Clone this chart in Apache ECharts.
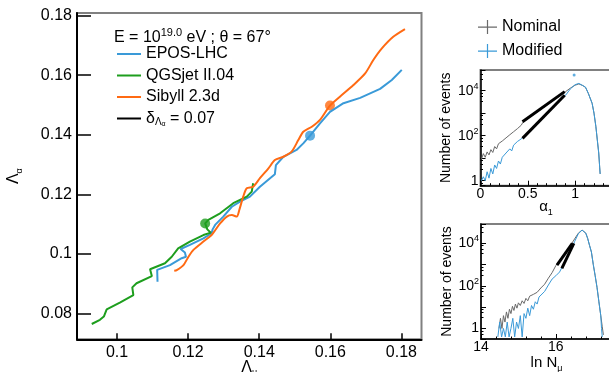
<!DOCTYPE html>
<html><head><meta charset="utf-8">
<script src="https://cdn.jsdelivr.net/npm/echarts@6/dist/echarts.min.js"></script>
<style>html,body{margin:0;padding:0;background:#fff}#c{width:609px;height:372px}</style>
</head><body><div id="c"></div>
<script>
// ---- Main panel: Lambda_mu (x) vs Lambda_alpha (y) ----
const eposX = [0.1114,0.1113,0.1149,0.1182,0.1194,0.1191,0.1179,0.1205,0.1243,0.1266,0.1269,0.1276,0.1299,0.1323,0.1346,0.1374,0.1402,0.1444,0.1447,0.1468,0.1505,0.1524,0.1543,0.1571,0.1599,0.1637,0.1684,0.1740,0.1773,0.1801];
const eposY = [0.0906,0.0946,0.0962,0.0985,0.0990,0.1004,0.1016,0.1030,0.1052,0.1069,0.1082,0.1097,0.1125,0.1158,0.1175,0.1192,0.1225,0.1267,0.1298,0.1326,0.1349,0.1371,0.1397,0.1438,0.1477,0.1506,0.1524,0.1554,0.1584,0.1618];
const qgsX = [0.0929,0.0952,0.0963,0.0971,0.1008,0.1046,0.1043,0.1055,0.1098,0.1093,0.1135,0.1154,0.1172,0.1205,0.1243,0.1264,0.1254,0.1248,0.1257,0.1290,0.1327,0.1365,0.1379,0.1383];
const qgsY = [0.0764,0.0778,0.0789,0.0813,0.0836,0.0861,0.0887,0.0901,0.0925,0.0948,0.0968,0.0990,0.1018,0.1041,0.1063,0.1071,0.1082,0.1102,0.1114,0.1136,0.1170,0.1192,0.1209,0.1237];
const sibX = [0.1161,0.1168,0.1187,0.1201,0.1215,0.1243,0.1266,0.1290,0.1309,0.1323,0.1337,0.1344,0.1355,0.1365,0.1383,0.1402,0.1426,0.1444,0.1468,0.1491,0.1510,0.1524,0.1548,0.1571,0.1599,0.1627,0.1665,0.1698,0.1721,0.1745,0.1777,0.1810];
const sibY = [0.0943,0.0945,0.0962,0.0990,0.1013,0.1041,0.1063,0.1102,0.1125,0.1130,0.1125,0.1147,0.1192,0.1220,0.1225,0.1254,0.1287,0.1315,0.1326,0.1343,0.1382,0.1410,0.1427,0.1450,0.1498,0.1528,0.1567,0.1606,0.1651,0.1690,0.1729,0.1755];
const nominalPts = { epos: [0.1543, 0.1397], qgs: [0.1248, 0.1102], sib: [0.1599, 0.1498] };
const mainXTicks = [0.1, 0.12, 0.14, 0.16, 0.18];
const mainYTicks = [0.08, 0.1, 0.12, 0.14, 0.16, 0.18];

// ---- Inset 1: alpha_1 histograms ----
const a1NomX = [0.01,0.03,0.05,0.07,0.09,0.11,0.13,0.15,0.17,0.19,0.21,0.23,0.25,0.27,0.29,0.31,0.33,0.35,0.37,0.39,0.41,0.43,0.45,0.55,0.65,0.75,0.85,0.9,0.95,1.0,1.04,1.08,1.11,1.14,1.18,1.2,1.22,1.235,1.25,1.26,1.265];
const a1NomY = [9,16,11,19,14,24,18,33,26,44,36,58,49,80,66,110,92,150,128,205,180,290,400,800,1600,3200,6800,9100,13000,17500,20000,17000,14000,7600,2750,1000,250,65,17,4,2];
const a1ModX = [0.01,0.03,0.05,0.07,0.09,0.11,0.13,0.15,0.17,0.19,0.21,0.23,0.25,0.27,0.29,0.31,0.33,0.35,0.37,0.39,0.41,0.43,0.45,0.55,0.65,0.75,0.85,0.9,0.95,1.0,1.04,1.08,1.11,1.14,1.18,1.2,1.22,1.235,1.25,1.26,1.265];
const a1ModY = [1,1.5,1,2.5,1.3,3.5,2,5,3.5,7.5,5.5,11,9,17,14,26,21,38,33,55,50,72,80,210,600,1600,4300,6300,12000,18500,21000,17000,14500,7600,2750,1000,250,65,17,4,2];
const a1Outlier = [0.99, 50000];
const a1FitNomX = [0.444, 0.89], a1FitNomY = [417, 9100];
const a1FitModX = [0.444, 0.89], a1FitModY = [76, 6300];

// ---- Inset 2: ln N_mu histograms ----
const lnNomX = [14.48,14.52,14.56,14.6,14.64,14.68,14.72,14.76,14.8,14.84,14.88,14.92,14.96,15.0,15.05,15.1,15.15,15.2,15.25,15.3,15.35,15.4,15.45,15.5,15.55,15.6,15.7,15.8,15.9,16.0,16.1,16.2,16.3,16.4,16.5,16.6,16.7,16.8,16.85,16.9,16.95,17.0,17.05,17.1,17.15,17.2,17.24,17.27];
const lnNomY = [1,3,1,4,2,6,3,8,5,11,7,14,9,16,12,20,15,26,20,33,28,40,36,50,48,80,120,230,420,900,1600,2800,4800,8500,16000,30000,42000,30000,17000,8000,3900,1000,300,85,18,4,1.2,0.5];
const lnModX = [14.45,14.5,14.55,14.6,14.65,14.7,14.75,14.8,14.85,14.9,14.95,15.0,15.05,15.1,15.15,15.2,15.25,15.3,15.35,15.4,15.45,15.5,15.55,15.6,15.7,15.8,15.9,16.0,16.1,16.2,16.3,16.4,16.5,16.6,16.7,16.8,16.85,16.9,16.95,17.0,17.05,17.1,17.15,17.2,17.22,17.24];
const lnModY = [0.4,2,0.4,1,0.4,2,0.4,1,3,0.4,2,1,4,0.4,5,3,9,4,12,8,18,14,30,26,55,110,210,300,450,1000,2000,4500,12000,28000,42000,30000,17000,8000,3900,1000,300,85,18,4,1,0.4];
const lnFitNomX = [16.03, 16.44], lnFitNomY = [950, 10000];
const lnFitModX = [16.16, 16.48], lnFitModY = [660, 10000];

const FONT = 'Liberation Sans, Arial, sans-serif';
const C_EPOS = '#3a9ad8', C_QGS = '#1e9e1e', C_SIB = '#ff6a13', C_NOM = '#6a6a6a', C_MOD = '#3a9ad8';
const zip = (xs, ys) => xs.map((x, i) => [x, ys[i]]);

const fmtMain = v => String(+(+v).toFixed(2));
const fmtLog = v => {
  const lg = Math.log10(v), r = Math.round(lg);
  if (Math.abs(lg - r) > 1e-6) return '';
  if (r === 0) return '1';
  if (r % 2) return '';
  return '{b|10}{p|' + r + '}';
};
const logRich = { b: { fontSize: 14, fontFamily: FONT, color: '#000', lineHeight: 18 }, p: { fontSize: 9, fontFamily: FONT, color: '#000', lineHeight: 9, verticalAlign: 'top' } };

const insetY = (gi, min, max) => ({
  gridIndex: gi, type: 'log', logBase: 10, min: min, max: max,
  axisLine: { show: true, lineStyle: { color: '#000', width: 1.5 } },
  axisTick: { show: true, inside: true, length: 5, lineStyle: { color: '#000' } },
  minorTick: { show: true, splitNumber: 4, length: 2.5, lineStyle: { color: '#000' } },
  axisLabel: { formatter: fmtLog, rich: logRich, margin: 2, showMinLabel: false, showMaxLabel: false, color: '#000', fontSize: 14, fontFamily: FONT },
  splitLine: { show: false }, minorSplitLine: { show: false },
  name: 'Number of events', nameLocation: 'middle', nameGap: 27,
  nameTextStyle: { fontSize: 14, fontFamily: FONT, color: '#000' }
});
const insetX = (gi, min, max, interval, name, gap) => ({
  gridIndex: gi, type: 'value', min: min, max: max, interval: interval,
  axisLine: { show: true, onZero: false, lineStyle: { color: '#000', width: 1.5 } },
  axisTick: { show: true, inside: true, length: 5, lineStyle: { color: '#000' } },
  minorTick: { show: true, splitNumber: 5, length: 2.5, lineStyle: { color: '#000' } },
  axisLabel: { margin: 1, showMaxLabel: false, color: '#000', fontSize: 14, fontFamily: FONT, formatter: v => String(v) },
  splitLine: { show: false },
  name: name, nameLocation: 'middle', nameGap: gap, nameMoveOverlap: false,
  nameTextStyle: { fontSize: 14, fontFamily: FONT, color: '#000', rich: {
    a: { fontSize: 15, fontFamily: FONT, color: '#000', lineHeight: 20 },
    s: { fontSize: 9, fontFamily: FONT, color: '#000', lineHeight: 9, verticalAlign: 'bottom' } } }
});
const gridBase = { show: true, borderColor: '#808080', borderWidth: 2, backgroundColor: 'transparent', containLabel: false, outerBoundsMode: 'none' };

const chart = echarts.init(document.getElementById('c'), null, { renderer: 'canvas' });
chart.setOption({
  animation: false,
  backgroundColor: '#fff',
  textStyle: { fontFamily: FONT },
  title: {
    text: '{a|E = 10}{sup|19.0}{a| eV ; θ = 67°}',
    left: 109, top: 22,
    textStyle: { fontWeight: 'normal', rich: {
      a: { fontSize: 16, fontWeight: 'normal', fontFamily: FONT, color: '#000', lineHeight: 22 },
      sup: { fontSize: 11, fontWeight: 'normal', fontFamily: FONT, color: '#000', lineHeight: 11, verticalAlign: 'top' } } }
  },
  legend: [{
    data: ['EPOS-LHC', 'QGSjet II.04', 'Sibyll 2.3d', 'delta'],
    orient: 'vertical', left: 112, top: 41, itemWidth: 24, itemHeight: 14, itemGap: 5.5,
    icon: 'path://M0,0h0.01v0.01h-0.01z M0,6h24v2h-24z M0,13.99h0.01v0.01h-0.01z',
    formatter: n => n === 'delta' ? '{d|δ}{s1|Λ}{s2|α}{d| = 0.07}' : '{t|' + n + '}',
    textStyle: { rich: {
      t: { fontSize: 16, fontFamily: FONT, color: '#000', lineHeight: 18 },
      d: { fontSize: 16, fontFamily: FONT, color: '#000', lineHeight: 18 },
      s1: { fontSize: 10, fontFamily: FONT, color: '#000', lineHeight: 6, verticalAlign: 'bottom' },
      s2: { fontSize: 7, fontFamily: FONT, color: '#000', lineHeight: 2, verticalAlign: 'bottom' } } }
  }, {
    data: ['Nominal', 'Modified'],
    orient: 'vertical', left: 473, top: 12, itemWidth: 19, itemHeight: 14, itemGap: 4,
    icon: 'path://M0,6.5h19v1.2h-19z M8.9,0h1.2v14h-1.2z',
    textStyle: { fontSize: 16, fontFamily: FONT, color: '#000', lineHeight: 20 }
  }],
  grid: [
    Object.assign({ left: 77, top: 13, width: 344.5, height: 326.3 }, gridBase),
    Object.assign({ left: 480.5, top: 70, width: 131, height: 115.7 }, gridBase),
    Object.assign({ left: 481, top: 224, width: 131, height: 115 }, gridBase)
  ],
  xAxis: [
    {
      gridIndex: 0, type: 'value', min: 0.08875, max: 0.18565,
      axisLine: { show: true, onZero: false, lineStyle: { color: '#000', width: 2 } },
      axisTick: { show: true, inside: true, length: 6, customValues: mainXTicks, lineStyle: { color: '#000', width: 1.5 } },
      axisLabel: { customValues: mainXTicks, formatter: fmtMain, margin: 5, fontSize: 16, color: '#000', fontFamily: FONT },
      splitLine: { show: false },
      name: '{a|Λ}{s|μ}', nameLocation: 'middle', nameGap: 18, nameMoveOverlap: false,
      nameTextStyle: { rich: {
        a: { fontSize: 16, fontFamily: FONT, color: '#000', lineHeight: 20 },
        s: { fontSize: 9, fontFamily: FONT, color: '#000', lineHeight: 9, verticalAlign: 'bottom' } } }
    },
    insetX(1, 0, 1.385, 0.5, '{a|α}{s|1}', 11),
    insetX(2, 14, 17.5, 2, '{a|ln N}{s|μ}', 14)
  ],
  yAxis: [
    {
      gridIndex: 0, type: 'value', min: 0.07126, max: 0.18091,
      axisLine: { show: true, onZero: false, lineStyle: { color: '#000', width: 2 } },
      axisTick: { show: true, inside: true, length: 14, customValues: mainYTicks, lineStyle: { color: '#000', width: 1.5 } },
      axisLabel: { customValues: mainYTicks, formatter: fmtMain, margin: 5, fontSize: 16, color: '#000', fontFamily: FONT },
      splitLine: { show: false },
      name: '{a|Λ}{s|α}', nameLocation: 'middle', nameGap: 53,
      nameTextStyle: { rich: {
        a: { fontSize: 16, fontFamily: FONT, color: '#000', lineHeight: 20 },
        s: { fontSize: 9, fontFamily: FONT, color: '#000', lineHeight: 9, verticalAlign: 'bottom' } } }
    },
    insetY(1, 0.6, 83000),
    insetY(2, 0.32, 81000)
  ],
  series: [
    { name: 'EPOS-LHC', type: 'line', xAxisIndex: 0, yAxisIndex: 0, data: zip(eposX, eposY), symbol: 'none', color: C_EPOS, lineStyle: { width: 2, color: C_EPOS } },
    { name: 'QGSjet II.04', type: 'line', xAxisIndex: 0, yAxisIndex: 0, data: zip(qgsX, qgsY), symbol: 'none', color: C_QGS, lineStyle: { width: 2, color: C_QGS } },
    { name: 'Sibyll 2.3d', type: 'line', xAxisIndex: 0, yAxisIndex: 0, data: zip(sibX, sibY), symbol: 'none', smooth: 0.25, color: C_SIB, lineStyle: { width: 2, color: C_SIB } },
    { name: 'delta', type: 'line', xAxisIndex: 0, yAxisIndex: 0, data: [], symbol: 'none', color: '#000', lineStyle: { width: 2, color: '#000' } },
    { name: 'EPOS nominal', type: 'scatter', xAxisIndex: 0, yAxisIndex: 0, data: [nominalPts.epos], symbolSize: 10, itemStyle: { color: C_EPOS } },
    { name: 'QGS nominal', type: 'scatter', xAxisIndex: 0, yAxisIndex: 0, data: [nominalPts.qgs], symbolSize: 10, itemStyle: { color: C_QGS } },
    { name: 'Sibyll nominal', type: 'scatter', xAxisIndex: 0, yAxisIndex: 0, data: [nominalPts.sib], symbolSize: 10, itemStyle: { color: C_SIB } },

    { name: 'Nominal', type: 'line', xAxisIndex: 1, yAxisIndex: 1, data: zip(a1NomX, a1NomY), symbol: 'none', color: C_NOM, lineStyle: { width: 1, color: C_NOM } },
    { name: 'Modified', type: 'line', xAxisIndex: 1, yAxisIndex: 1, data: zip(a1ModX, a1ModY), symbol: 'none', color: C_MOD, lineStyle: { width: 1, color: C_MOD } },
    { name: 'Modified', type: 'scatter', xAxisIndex: 1, yAxisIndex: 1, data: [a1Outlier], symbolSize: 3, itemStyle: { color: C_MOD } },
    { name: 'fitNom1', type: 'line', xAxisIndex: 1, yAxisIndex: 1, data: zip(a1FitNomX, a1FitNomY), symbol: 'none', lineStyle: { width: 3, color: '#000' } },
    { name: 'fitMod1', type: 'line', xAxisIndex: 1, yAxisIndex: 1, data: zip(a1FitModX, a1FitModY), symbol: 'none', lineStyle: { width: 3, color: '#000' } },

    { name: 'Nominal', type: 'line', xAxisIndex: 2, yAxisIndex: 2, data: zip(lnNomX, lnNomY), symbol: 'none', color: C_NOM, lineStyle: { width: 1, color: C_NOM } },
    { name: 'Modified', type: 'line', xAxisIndex: 2, yAxisIndex: 2, data: zip(lnModX, lnModY), symbol: 'none', color: C_MOD, lineStyle: { width: 1, color: C_MOD } },
    { name: 'fitNom2', type: 'line', xAxisIndex: 2, yAxisIndex: 2, data: zip(lnFitNomX, lnFitNomY), symbol: 'none', lineStyle: { width: 3, color: '#000' } },
    { name: 'fitMod2', type: 'line', xAxisIndex: 2, yAxisIndex: 2, data: zip(lnFitModX, lnFitModY), symbol: 'none', lineStyle: { width: 3, color: '#000' } }
  ]
});
</script></body></html>
